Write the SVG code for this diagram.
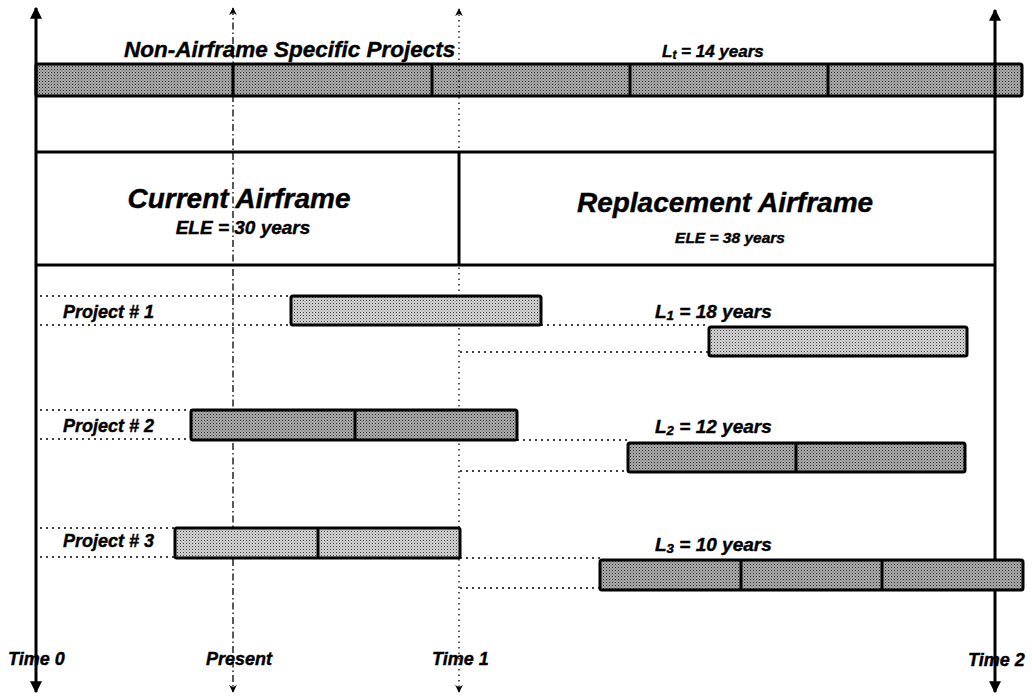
<svg xmlns="http://www.w3.org/2000/svg" width="1032" height="700" viewBox="0 0 1032 700">
<defs>
<pattern id="pd" width="3" height="3" patternUnits="userSpaceOnUse">
<rect width="3" height="3" fill="#b0b0b0"/><rect width="1" height="1" fill="#222"/><rect x="1.5" y="1.5" width="1" height="1" fill="#444"/>
</pattern>
<pattern id="pl" width="3" height="3" patternUnits="userSpaceOnUse">
<rect width="3" height="3" fill="#d8d8d8"/><rect width="1" height="1" fill="#333"/><rect x="1.5" y="1.5" width="1" height="1" fill="#777"/>
</pattern>
<marker id="ah" viewBox="0 0 10 10" refX="9" refY="5" markerWidth="4" markerHeight="4" orient="auto-start-reverse" markerUnits="strokeWidth">
<path d="M0,0 L10,5 L0,10 z" fill="#000"/>
</marker>
<marker id="ahs" viewBox="0 0 10 10" refX="9" refY="5" markerWidth="6" markerHeight="6" orient="auto-start-reverse" markerUnits="strokeWidth">
<path d="M0,0 L10,5 L0,10 L3,5 z" fill="#000"/>
</marker>
<style>
text{font-family:"Liberation Sans",Arial,sans-serif;font-weight:bold;font-style:italic;fill:#000;stroke:#000;stroke-width:0.4}
.bar{stroke:#000;stroke-width:3}
.dark{fill:url(#pd)}
.light{fill:url(#pl)}
.div{stroke:#000;stroke-width:3}
.dot{stroke:#000;stroke-width:1.3;stroke-dasharray:2 4;fill:none}
.frame{stroke:#000;stroke-width:3;fill:none}
.sub{font-size:70%}
</style>
</defs>

<g id="connectors">
<line class="dot" x1="40" y1="296" x2="291" y2="296"/>
<line class="dot" x1="40" y1="325" x2="291" y2="325"/>
<line class="dot" x1="541" y1="325" x2="709" y2="325"/>
<line class="dot" x1="460" y1="352" x2="709" y2="352"/>
<line class="dot" x1="40" y1="410" x2="191" y2="410"/>
<line class="dot" x1="40" y1="439" x2="191" y2="439"/>
<line class="dot" x1="517" y1="440" x2="628" y2="440"/>
<line class="dot" x1="460" y1="471" x2="628" y2="471"/>
<line class="dot" x1="40" y1="528" x2="175" y2="528"/>
<line class="dot" x1="40" y1="557" x2="175" y2="557"/>
<line class="dot" x1="460" y1="558" x2="600" y2="558"/>
<line class="dot" x1="460" y1="588" x2="600" y2="588"/>
</g>

<g id="frame">
<line class="frame" x1="36" y1="152" x2="995" y2="152"/>
<line class="frame" x1="36" y1="265" x2="995" y2="265"/>
<line class="frame" x1="459" y1="152" x2="459" y2="265"/>
</g>

<g id="non-airframe">
<rect class="bar dark" x="36" y="64" width="986" height="32" rx="2"/>
<line class="div" x1="233" y1="64" x2="233" y2="96"/>
<line class="div" x1="432" y1="64" x2="432" y2="96"/>
<line class="div" x1="630" y1="64" x2="630" y2="96"/>
<line class="div" x1="828" y1="64" x2="828" y2="96"/>
<text x="124" y="57" font-size="22.5">Non-Airframe Specific Projects</text>
<text x="662" y="57" font-size="17">L<tspan class="sub" dy="2">t</tspan><tspan dy="-2"> = 14 years</tspan></text>
</g>

<g id="current-airframe">
<text x="239" y="208" font-size="28" text-anchor="middle">Current Airframe</text>
<text x="243" y="234" font-size="19" text-anchor="middle">ELE = 30 years</text>
</g>

<g id="replacement-airframe">
<text x="725" y="212" font-size="28" text-anchor="middle">Replacement Airframe</text>
<text x="730" y="243" font-size="15.5" text-anchor="middle">ELE = 38 years</text>
</g>

<g id="axes">
<line x1="36" y1="8" x2="36" y2="692" stroke="#000" stroke-width="3" marker-start="url(#ah)" marker-end="url(#ah)"/>
<line x1="995" y1="10" x2="995" y2="692" stroke="#000" stroke-width="3" marker-start="url(#ah)" marker-end="url(#ah)"/>
<line x1="233" y1="8" x2="233" y2="692" stroke="#000" stroke-width="1.3" stroke-dasharray="7 3 1.5 3" marker-start="url(#ahs)" marker-end="url(#ahs)"/>
<line x1="459" y1="9" x2="459" y2="692" stroke="#000" stroke-width="1.3" stroke-dasharray="1.5 4" marker-start="url(#ahs)" marker-end="url(#ahs)"/>
</g>

<g id="project1">
<text x="63" y="318" font-size="18">Project # 1</text>
<rect class="bar light" x="291" y="296" width="250" height="29" rx="2"/>
<rect class="bar light" x="709" y="327" width="258" height="29" rx="2"/>
<text x="655" y="318" font-size="19">L<tspan class="sub" dy="2">1</tspan><tspan dy="-2">  = 18 years</tspan></text>
</g>

<g id="project2">
<text x="63" y="432" font-size="18">Project # 2</text>
<rect class="bar dark" x="191" y="410" width="326" height="30" rx="2"/>
<line class="div" x1="355" y1="410" x2="355" y2="440"/>
<rect class="bar dark" x="628" y="443" width="337" height="29" rx="2"/>
<line class="div" x1="796" y1="443" x2="796" y2="472"/>
<text x="655" y="433" font-size="19">L<tspan class="sub" dy="2">2</tspan><tspan dy="-2"> = 12 years</tspan></text>
</g>

<g id="project3">
<text x="63" y="547" font-size="18">Project # 3</text>
<rect class="bar light" x="175" y="528" width="285" height="30" rx="2"/>
<line class="div" x1="318" y1="528" x2="318" y2="558"/>
<rect class="bar dark" x="600" y="560" width="423" height="30" rx="2"/>
<line class="div" x1="741" y1="560" x2="741" y2="590"/>
<line class="div" x1="882" y1="560" x2="882" y2="590"/>
<text x="655" y="551" font-size="19">L<tspan class="sub" dy="2">3</tspan><tspan dy="-2"> = 10 years</tspan></text>
</g>

<g id="time-labels">
<text x="8" y="665" font-size="18">Time 0</text>
<text x="206" y="665" font-size="18">Present</text>
<text x="432" y="665" font-size="18">Time 1</text>
<text x="968" y="666" font-size="18">Time 2</text>
</g>
</svg>
